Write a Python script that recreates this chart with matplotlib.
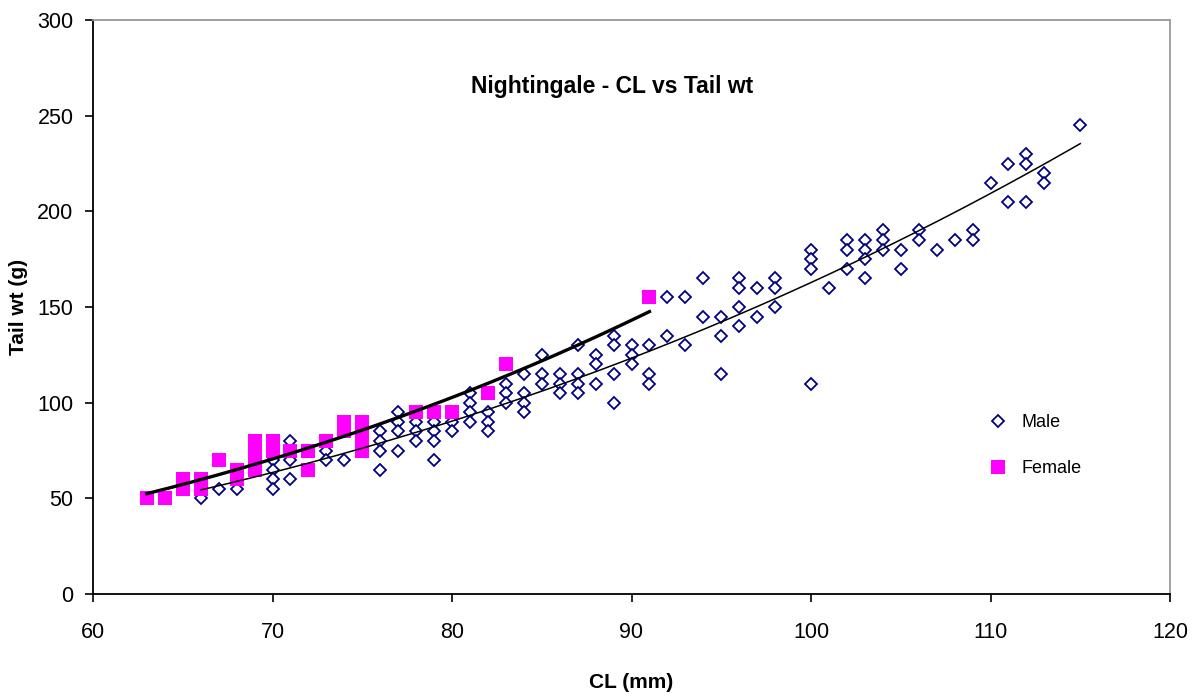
import numpy as np
import matplotlib
matplotlib.use("Agg")
import matplotlib.pyplot as plt

plt.rcParams['font.family'] = ['Liberation Sans', 'DejaVu Sans']

# Male data (CL mm, tail wt g)
male_cl = [66, 67, 68,
           70, 70, 70, 70, 71, 71, 71, 72, 73, 73, 74,
           76, 76, 76, 76, 77, 77, 77, 77, 78, 78, 78, 79, 79, 79, 79, 80, 80,
           81, 81, 81, 81, 82, 82, 82, 83, 83, 83, 84, 84, 84, 84, 85, 85, 85,
           86, 86, 86, 87, 87, 87, 87, 88, 88, 88, 89, 89, 89, 89, 90, 90, 90,
           91, 91, 91, 92, 92, 93, 93, 94, 94, 95, 95, 95, 96, 96, 96, 96,
           97, 97, 98, 98, 98, 100, 100, 100, 100, 101, 102, 102, 102,
           103, 103, 103, 103, 104, 104, 104, 105, 105, 106, 106, 107, 108,
           109, 109, 110, 111, 111, 112, 112, 112, 113, 113, 115]
male_wt = [50, 55, 55,
           70, 65, 60, 55, 80, 70, 60, 65, 75, 70, 70,
           85, 80, 75, 65, 95, 90, 85, 75, 90, 85, 80, 90, 85, 80, 70, 90, 85,
           105, 100, 95, 90, 95, 90, 85, 110, 105, 100, 115, 105, 100, 95, 125, 115, 110,
           115, 110, 105, 130, 115, 110, 105, 125, 120, 110, 135, 130, 115, 100, 130, 125, 120,
           130, 115, 110, 155, 135, 155, 130, 165, 145, 145, 135, 115, 165, 160, 150, 140,
           160, 145, 165, 160, 150, 180, 175, 170, 110, 160, 185, 180, 170,
           185, 180, 175, 165, 190, 185, 180, 180, 170, 190, 185, 180, 185,
           190, 185, 215, 225, 205, 230, 225, 205, 220, 215, 245]

# Female data
female_cl = [63, 64, 65, 65, 66, 66, 67, 68, 68, 69, 69, 69, 69, 70, 70,
             71, 72, 72, 73, 74, 74, 75, 75, 75, 75, 78, 79, 80, 82, 83, 91]
female_wt = [50, 50, 55, 60, 55, 60, 70, 60, 65, 65, 70, 75, 80, 75, 80,
             75, 75, 65, 80, 85, 90, 75, 80, 85, 90, 95, 95, 95, 105, 120, 155]

title = "Nightingale - CL vs Tail wt"
xlabel = "CL (mm)"
ylabel = "Tail wt (g)"
xticks = [60, 70, 80, 90, 100, 110, 120]
yticks = [0, 50, 100, 150, 200, 250, 300]

fig = plt.figure(figsize=(11.97, 6.97), dpi=100)
ax = fig.add_axes([93/1197, 103/697, (1170-93)/1197, (594-20)/697])

ax.plot(male_cl, male_wt, linestyle='none', marker='D', markersize=6.5,
        markerfacecolor='white', markeredgecolor='#000080', markeredgewidth=1.3,
        label='Male', zorder=3)
ax.plot(female_cl, female_wt, linestyle='none', marker='s', markersize=9.5,
        markerfacecolor='#FF00FF', markeredgecolor='#FF00FF', markeredgewidth=0,
        label='Female', zorder=4)


def power_fit(xs, ys):
    b, lna = np.polyfit(np.log(xs), np.log(ys), 1)
    return np.exp(lna), b


# Power trendlines (y = a * x^b)
a, b = power_fit(male_cl, male_wt)
mx = np.linspace(min(male_cl), max(male_cl), 200)
ax.plot(mx, a * mx ** b, color='black', linewidth=1.1, zorder=5)
a, b = power_fit(female_cl, female_wt)
fx = np.linspace(min(female_cl), max(female_cl), 200)
ax.plot(fx, a * fx ** b, color='black', linewidth=2.4, zorder=5)

ax.set_xlim(60, 120)
ax.set_ylim(0, 300)
ax.set_xticks(xticks)
ax.set_yticks(yticks)
ax.tick_params(axis='both', direction='out', length=6, width=1.2, labelsize=15.5,
               colors='black')
ax.tick_params(axis='x', pad=14)
ax.tick_params(axis='y', pad=8)
for s in ['left', 'bottom']:
    ax.spines[s].set_color('black')
    ax.spines[s].set_linewidth(1.3)
for s in ['top', 'right']:
    ax.spines[s].set_color('#999999')
    ax.spines[s].set_linewidth(1.3)

ax.set_xlabel(xlabel, fontsize=15, fontweight='bold', labelpad=22)
ax.set_ylabel(ylabel, fontsize=15, fontweight='bold', labelpad=7)
ax.text(0.482, 0.884, title, transform=ax.transAxes, fontsize=16.5,
        fontweight='bold', ha='center', va='center')

leg = ax.legend(loc='center left', bbox_to_anchor=(0.808, 0.258), frameon=False,
                fontsize=13, labelspacing=1.6, handletextpad=0.35, numpoints=1)

fig.savefig('out.png', dpi=100)
